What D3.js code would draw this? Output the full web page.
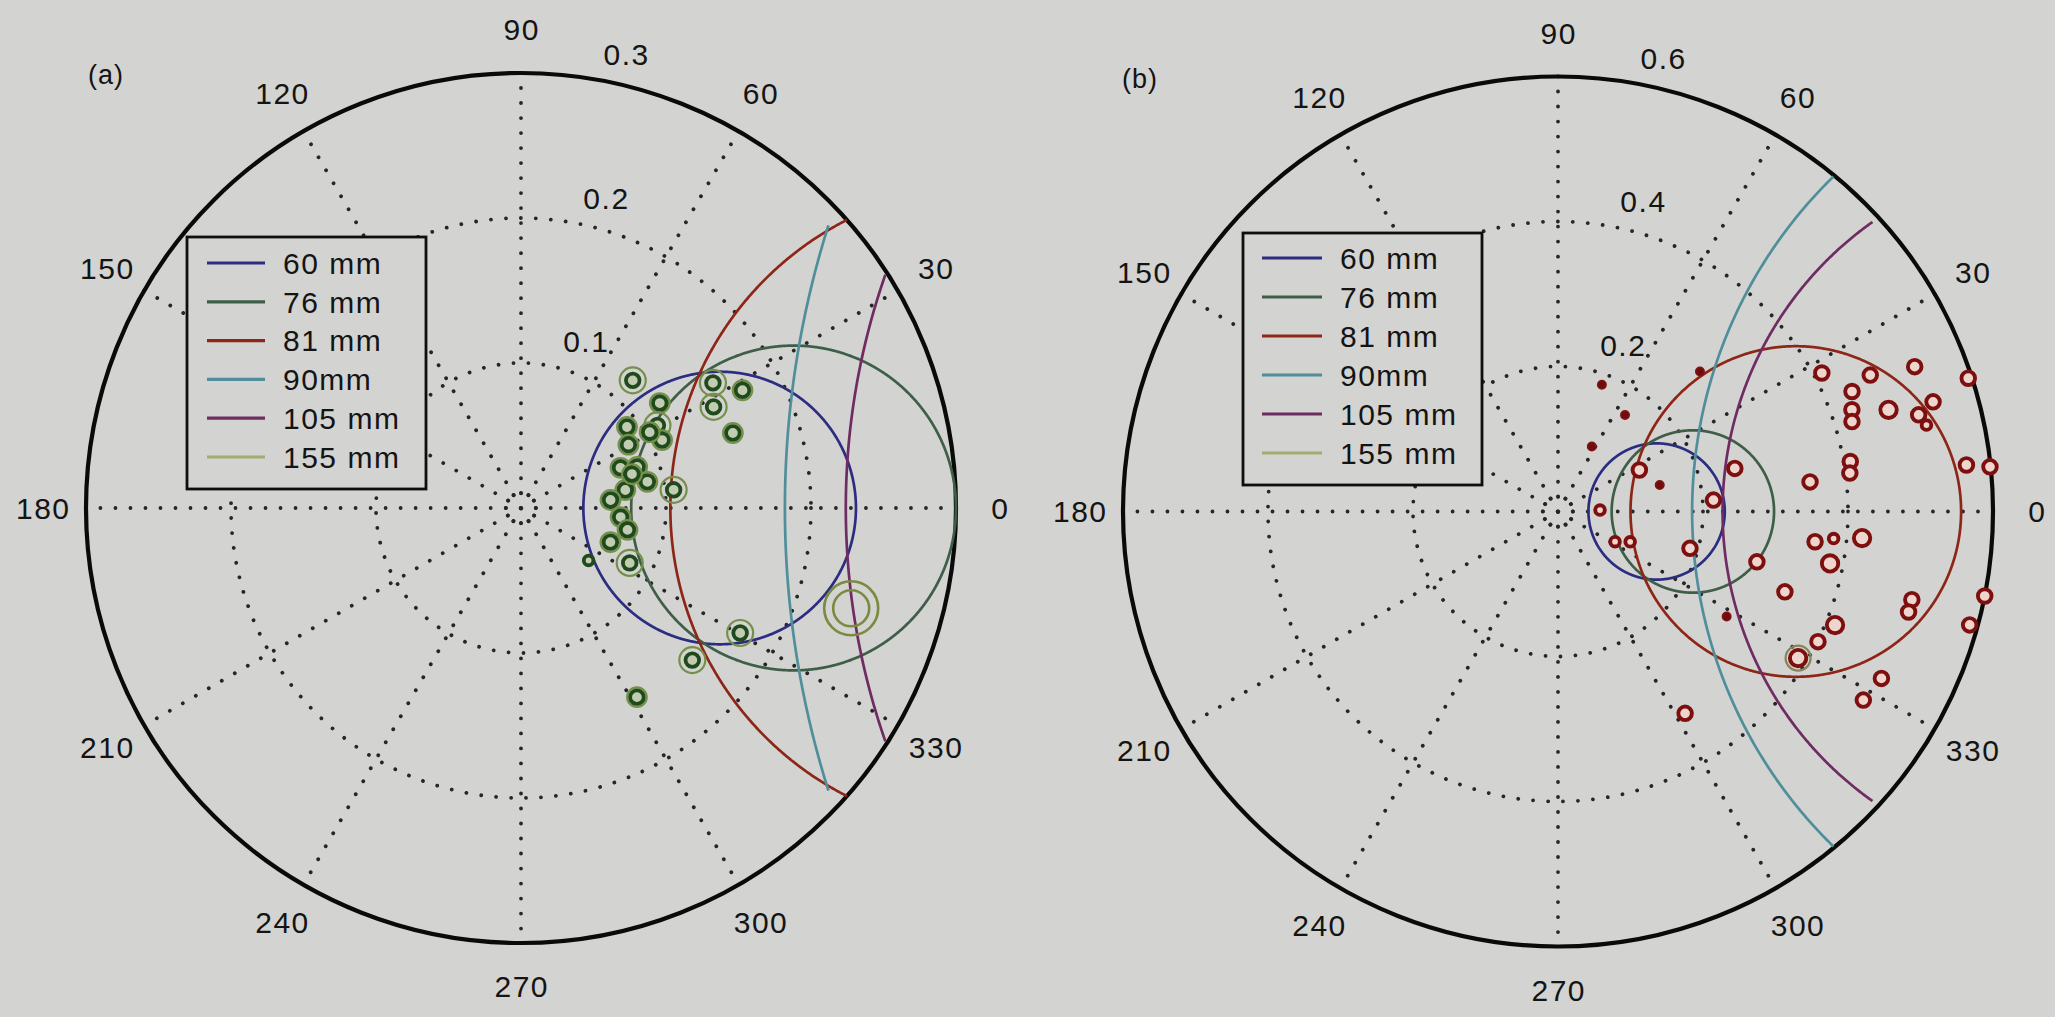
<!DOCTYPE html>
<html><head><meta charset="utf-8">
<script src="https://cdn.jsdelivr.net/npm/d3@7"></script>
<style>html,body{margin:0;padding:0;background:#d3d3d1;} svg{display:block}</style>
</head><body><svg id="c" width="2055" height="1017"></svg>
<script>
// ---------- data ----------
const angleTicks = [0,30,60,90,120,150,180,210,240,270,300,330];
const ringTicksA = [0.1,0.2,0.3];
const ringTicksB = [0.2,0.4,0.6];
const calibers = ["60 mm","76 mm","81 mm","90mm","105 mm","155 mm"];

// circles (in polar-data units): centre distance along 0 deg, radius, max drawn radius
const curveCenterA = [0.137,0.188,0.326,0.83,0.712];
const curveRadiusA = [0.094,0.112,0.223,0.648,0.488];
const curveLimitA  = [0.3,0.3,0.3,0.288,0.3];
const curveCenterB = [0.136,0.186,0.328,0.83,0.716];
const curveRadiusB = [0.094,0.112,0.228,0.645,0.489];
const curveLimitB  = [0.6,0.6,0.6,0.6,0.59];

// panel (a) observations (green)
const markerThetaA = [48.8,37.1,37.4,31.2,25.7,30.5,22.0,19.5,11.7,9.8,5.1,6.8,354.8,348.4,339.1,322.2,333.2,33.1,28.0,27.7,19.5,330.3,318.4,301.5,343.1,17.0,30.5];
const markerRA     = [0.117,0.120,0.092,0.110,0.108,0.086,0.074,0.085,0.089,0.073,0.062,0.106,0.069,0.075,0.066,0.059,0.084,0.158,0.173,0.150,0.155,0.174,0.158,0.153,0.238,0.080,0.103];
const markerKindA  = [2,1,1,2,1,1,1,1,1,1,1,2,1,1,1,0,2,2,1,2,1,2,2,1,3,1,1];

// panel (b) observations (red)
const markerThetaB = [70.9,44.6,55.2,62.5,27.7,23.6,22.1,18.0,22.2,19.1,17.0,17.1,16.3,15.0,13.2,6.5,5.9,9.7,7.5,6.7,13.7,14.6,27.0,2.0,4.2,332.1,337.2,344.4,353.3,354.4,355.0,349.2,345.8,340.5,346.0,344.0,348.8,344.6,337.7,333.4,328.6,328.1,332.7,328.3,302.2];
const markerRB     = [0.185,0.275,0.162,0.101,0.411,0.470,0.531,0.595,0.438,0.429,0.424,0.477,0.539,0.515,0.522,0.567,0.599,0.409,0.406,0.350,0.251,0.145,0.126,0.058,0.215,0.089,0.108,0.189,0.357,0.382,0.421,0.382,0.283,0.332,0.503,0.503,0.600,0.589,0.413,0.401,0.388,0.274,0.502,0.495,0.329];
const markerKindB  = [0,0,0,0,1,1,1,1,1,1,1,2,1,1,4,1,1,1,1,1,1,0,1,4,1,4,4,1,1,4,2,2,1,1,1,1,1,1,2,1,3,0,1,1,1];

// ---------- styles ----------
const lineColors = ["#2c2c80","#3e5e48","#8e2618","#4f8e9a","#6e2c62","#a2ac70"];
const font = "'Liberation Sans', Arial, Helvetica, sans-serif";
const FS = 30, LS = 1.5;
const svg = d3.select("#c");

function txt(g, x, y, s, anchor){
  return g.append("text").attr("x",x).attr("y",y).attr("font-family",font)
    .attr("font-size",FS).attr("letter-spacing",LS).attr("fill","#141414")
    .attr("text-anchor",anchor||"start").text(s);
}

function panel(opt){
  const g = svg.append("g");
  const {cx, cy, R, rmax, rings} = opt;
  const rs = d3.scaleLinear().domain([0, rmax]).range([0, R]);
  const P = (r, deg) => { const a = deg*Math.PI/180; return [cx + rs(r)*Math.cos(a), cy - rs(r)*Math.sin(a)]; };

  // dotted rings
  const dot = {stroke:"#262626", w:3.8, dash:"0.01 15"};
  rings.slice(0, -1).forEach(t => {
    g.append("circle").attr("cx",cx).attr("cy",cy).attr("r",rs(t))
      .attr("fill","none").attr("stroke",dot.stroke).attr("stroke-width",dot.w)
      .attr("stroke-dasharray",dot.dash).attr("stroke-linecap","round");
  });
  g.append("circle").attr("cx",cx).attr("cy",cy).attr("r",15)
      .attr("fill","none").attr("stroke",dot.stroke).attr("stroke-width",dot.w)
      .attr("stroke-dasharray","0.01 7.8").attr("stroke-linecap","round");
  // spokes
  angleTicks.slice(0,6).forEach(a => {
    const p1 = P(rmax, a), p2 = P(rmax, a+180);
    g.append("line").attr("x1",p1[0]).attr("y1",p1[1]).attr("x2",p2[0]).attr("y2",p2[1])
      .attr("stroke",dot.stroke).attr("stroke-width",dot.w)
      .attr("stroke-dasharray",dot.dash).attr("stroke-linecap","round");
  });
  // outer circle
  g.append("circle").attr("cx",cx).attr("cy",cy).attr("r",R)
    .attr("fill","none").attr("stroke","#0a0a0a").attr("stroke-width",4.2);

  // angle labels
  angleTicks.forEach(a => {
    const p = P(rmax*1.1, a);
    txt(g, p[0] + LS/2, p[1], a, "middle").attr("dominant-baseline","central");
  });
  // ring labels
  rings.forEach(t => {
    const p = P(t + rings[0]/20, 82);
    txt(g, p[0]+21, p[1]-5, String(t));
  });

  // curves
  const line = d3.line();
  opt.centers.forEach((c, i) => {
    const rad = opt.radii[i], lim = opt.limits[i];
    const segs = []; let cur = [];
    for (let k = 0; k <= 1440; k++) {
      const ph = k/1440*2*Math.PI;
      const x = c + rad*Math.cos(ph), y = rad*Math.sin(ph);
      const r = Math.hypot(x, y);
      if (r <= lim) cur.push(P(r, Math.atan2(y, x)*180/Math.PI));
      else if (cur.length) { segs.push(cur); cur = []; }
    }
    if (cur.length) segs.push(cur);
    if (segs.length > 1) { const last = segs.pop(); segs[0] = last.concat(segs[0]); }
    segs.forEach(s => g.append("path").attr("d", line(s)).attr("fill","none")
      .attr("stroke", lineColors[i]).attr("stroke-width", 2.7));
  });

  // markers
  opt.thetas.forEach((th, i) => {
    const p = P(opt.rvals[i], th);
    opt.drawMarker(g, p, opt.kinds[i]);
  });

  // legend
  const L = opt.legend;
  g.append("rect").attr("x",L.x).attr("y",L.y).attr("width",L.w).attr("height",L.h)
    .attr("fill","#d3d3d1").attr("stroke","#0e0e0e").attr("stroke-width",2.8);
  calibers.forEach((name, i) => {
    const y = L.y0 + i*L.dy;
    g.append("line").attr("x1",L.lx1).attr("x2",L.lx2).attr("y1",y).attr("y2",y)
      .attr("stroke",lineColors[i]).attr("stroke-width",3.2);
    txt(g, L.tx, y + FS*0.36, name);
  });
  // panel label
  g.append("text").attr("x",opt.tag.x).attr("y",opt.tag.y).attr("font-family",font)
    .attr("font-size",27).attr("letter-spacing",1).attr("fill","#141414").text(opt.tag.t);
}

function greenMarker(g, p, k){
  if (k === 3) {
    [18, 27].forEach(r => g.append("circle").attr("cx",p[0]).attr("cy",p[1]).attr("r",r)
      .attr("fill","none").attr("stroke","#7a8a40").attr("stroke-width",2.6));
    return;
  }
  const inner = k === 0 ? 4.8 : 6.8;
  const outer = k === 2 ? 13 : (k === 0 ? 0 : 9.8);
  if (outer) g.append("circle").attr("cx",p[0]).attr("cy",p[1]).attr("r",outer)
      .attr("fill","none").attr("stroke","#74904a").attr("stroke-width",2.2);
  g.append("circle").attr("cx",p[0]).attr("cy",p[1]).attr("r",inner)
    .attr("fill","#c2ccb2").attr("stroke","#1f4a1b").attr("stroke-width",3.8);
}
function redMarker(g, p, k){
  if (k === 0) {
    g.append("circle").attr("cx",p[0]).attr("cy",p[1]).attr("r",4.2)
      .attr("fill","#6e0d0d").attr("stroke","#851212").attr("stroke-width",1.6);
    return;
  }
  if (k === 3) {
    g.append("circle").attr("cx",p[0]).attr("cy",p[1]).attr("r",12.5)
      .attr("fill","none").attr("stroke","#87845a").attr("stroke-width",2.2);
  }
  const r = k === 4 ? 4.8 : (k === 2 || k === 3 ? 8.2 : 6.8);
  g.append("circle").attr("cx",p[0]).attr("cy",p[1]).attr("r",r)
    .attr("fill","#eed6cf").attr("stroke","#7e0f0f").attr("stroke-width",3.9);
}

panel({cx:521, cy:508, R:435, rmax:0.3, rings:ringTicksA,
  centers:curveCenterA, radii:curveRadiusA, limits:curveLimitA,
  thetas:markerThetaA, rvals:markerRA, kinds:markerKindA, drawMarker:greenMarker,
  legend:{x:187,y:237,w:239,h:252,y0:263,dy:38.8,lx1:207,lx2:265,tx:283},
  tag:{x:88,y:84,t:"(a)"}});

panel({cx:1558, cy:511.5, R:435, rmax:0.6, rings:ringTicksB,
  centers:curveCenterB, radii:curveRadiusB, limits:curveLimitB,
  thetas:markerThetaB, rvals:markerRB, kinds:markerKindB, drawMarker:redMarker,
  legend:{x:1243,y:233,w:239,h:252,y0:258,dy:39,lx1:1262,lx2:1322,tx:1340},
  tag:{x:1122,y:88,t:"(b)"}});
</script></body></html>
